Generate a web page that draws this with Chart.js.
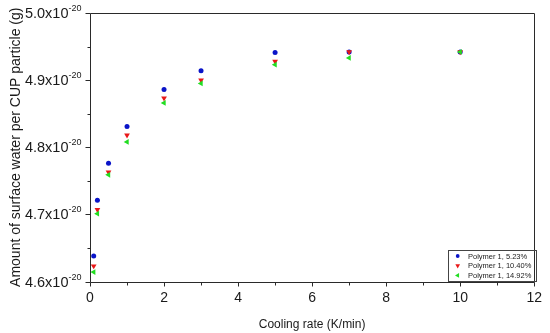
<!DOCTYPE html>
<html><head><meta charset="utf-8">
<script src="https://cdn.jsdelivr.net/npm/chart.js@4"></script>
<style>html,body{margin:0;padding:0;background:#fff}#wrap{width:550px;height:333px}</style>
</head><body><div id="wrap"><canvas id="c" width="550" height="333"></canvas></div>
<script>
// Values in units of 10^-20 g
const coolingRates = [0.1, 0.2, 0.5, 1, 2, 3, 5, 7, 10];
const seriesLabels = ['Polymer 1, 5.23%', 'Polymer 1, 10.40%', 'Polymer 1, 14.92%'];
const water523  = [4.638, 4.721, 4.776, 4.831, 4.886, 4.914, 4.941, 4.942, 4.942];
const water1040 = [4.623, 4.707, 4.763, 4.818, 4.873, 4.900, 4.928, 4.942, 4.942];
const water1492 = [4.614, 4.701, 4.759, 4.808, 4.866, 4.895, 4.923, 4.933, 4.942];
const yTickLabels = ['4.6', '4.7', '4.8', '4.9', '5.0'];
const yTickExponent = '-20';
const xTickLabels = ['0', '2', '4', '6', '8', '10', '12'];
const xTitle = 'Cooling rate (K/min)';
const yTitle = 'Amount of surface water per CUP particle (g)';

const FONT = "'Liberation Sans', Arial, sans-serif";
Chart.defaults.font.family = FONT;
Chart.defaults.color = '#1a1a1a';

function pts(vals) { return coolingRates.map((x, i) => ({x: x, y: vals[i]})); }

const axesPlugin = {
  id: 'axesPlugin',
  afterDraw(chart) {
    const {ctx, chartArea: a, scales: {x, y}} = chart;
    ctx.save();
    ctx.strokeStyle = '#2a2a2a';
    ctx.lineWidth = 1;
    const L = Math.round(a.left) + 0.5, R = Math.round(a.right) + 0.5;
    const T = Math.round(a.top) + 0.5, B = Math.round(a.bottom) + 0.5;
    ctx.beginPath();
    ctx.moveTo(L, T); ctx.lineTo(R, T); ctx.lineTo(R, B); ctx.lineTo(L, B); ctx.closePath();
    ctx.stroke();
    // x ticks (major + minor)
    const xt = x.ticks.map(t => t.value);
    ctx.beginPath();
    for (let i = 0; i < xt.length; i++) {
      const px = Math.round(x.getPixelForValue(xt[i])) + 0.5;
      ctx.moveTo(px, B); ctx.lineTo(px, B + 4);
      if (i < xt.length - 1) {
        const mx = Math.round(x.getPixelForValue((xt[i] + xt[i + 1]) / 2)) + 0.5;
        ctx.moveTo(mx, B); ctx.lineTo(mx, B + 3);
      }
    }
    // y ticks (major + minor)
    const yt = y.ticks.map(t => t.value);
    for (let i = 0; i < yt.length; i++) {
      const py = Math.round(y.getPixelForValue(yt[i])) + 0.5;
      ctx.moveTo(L, py); ctx.lineTo(L - 5, py);
      if (i < yt.length - 1) {
        const my = Math.round(y.getPixelForValue((yt[i] + yt[i + 1]) / 2)) + 0.5;
        ctx.moveTo(L, my); ctx.lineTo(L - 3, my);
      }
    }
    ctx.stroke();
    // y tick labels with superscript exponent
    ctx.fillStyle = '#1a1a1a';
    ctx.textAlign = 'right';
    ctx.textBaseline = 'alphabetic';
    const rightEdge = L - 9;
    for (let i = 0; i < yt.length; i++) {
      const py = y.getPixelForValue(yt[i]);
      ctx.font = '9px ' + FONT;
      const ew = ctx.measureText(yTickExponent).width;
      ctx.fillText(yTickExponent, rightEdge, py - 2);
      ctx.font = '14.5px ' + FONT;
      ctx.fillText(yTickLabels[i] + 'x10', rightEdge - ew, py + 5);
    }
    // legend
    const bx = 448.5, by = 250.5, bw = 88, bh = 31;
    ctx.strokeStyle = '#444';
    ctx.strokeRect(bx, by, bw, bh);
    ctx.font = '7.5px ' + FONT;
    ctx.textAlign = 'left';
    ctx.textBaseline = 'middle';
    chart.data.datasets.forEach((ds, i) => {
      const cy = by + 5.5 + i * 9.7;
      ctx.fillStyle = ds.backgroundColor;
      ctx.strokeStyle = ds.borderColor;
      Chart.helpers.drawPoint(ctx, {pointStyle: ds.pointStyle, rotation: ds.rotation || 0,
        radius: ds.pointStyle === 'circle' ? 1.9 : 2.7, borderWidth: 0}, 457.7, cy);
      ctx.fillStyle = '#1a1a1a';
      ctx.fillText(ds.label, 468, cy + 0.5);
    });
    ctx.restore();
  }
};

new Chart(document.getElementById('c'), {
  type: 'scatter',
  data: {
    datasets: [
      {label: seriesLabels[0], data: pts(water523), pointStyle: 'circle', rotation: 0,
       pointRadius: 2.5, backgroundColor: '#0a14c8', borderColor: '#0a14c8', borderWidth: 0, order: 2},
      {label: seriesLabels[1], data: pts(water1040), pointStyle: 'triangle', rotation: 180,
       pointRadius: 3.3, backgroundColor: '#e81818', borderColor: '#e81818', borderWidth: 0, order: 1},
      {label: seriesLabels[2], data: pts(water1492), pointStyle: 'triangle', rotation: 270,
       pointRadius: 3.3, backgroundColor: '#22dd22', borderColor: '#22dd22', borderWidth: 0, order: 0}
    ]
  },
  options: {
    responsive: false,
    devicePixelRatio: 1,
    animation: false,
    layout: {padding: {top: 13, right: 13, left: 0, bottom: 0}},
    plugins: {legend: {display: false}, tooltip: {enabled: false}},
    scales: {
      x: {
        type: 'linear', min: 0, max: 12,
        grid: {display: false, drawTicks: false},
        border: {display: false},
        ticks: {stepSize: 2, font: {size: 14}, padding: 8, maxRotation: 0,
                callback: (v, i) => xTickLabels[i]},
        title: {display: true, text: xTitle, font: {size: 12}, padding: {top: 0, bottom: 1.5}},
        afterFit: s => { s.height = 51.5; }
      },
      y: {
        type: 'linear', min: 4.6, max: 5.0,
        grid: {display: false, drawTicks: false},
        border: {display: false},
        ticks: {stepSize: 0.1, display: false},
        title: {display: true, text: yTitle, font: {size: 14}, padding: {top: 8, bottom: 0}},
        afterFit: s => { s.width = 90; }
      }
    }
  },
  plugins: [axesPlugin]
});
</script>
</body></html>
